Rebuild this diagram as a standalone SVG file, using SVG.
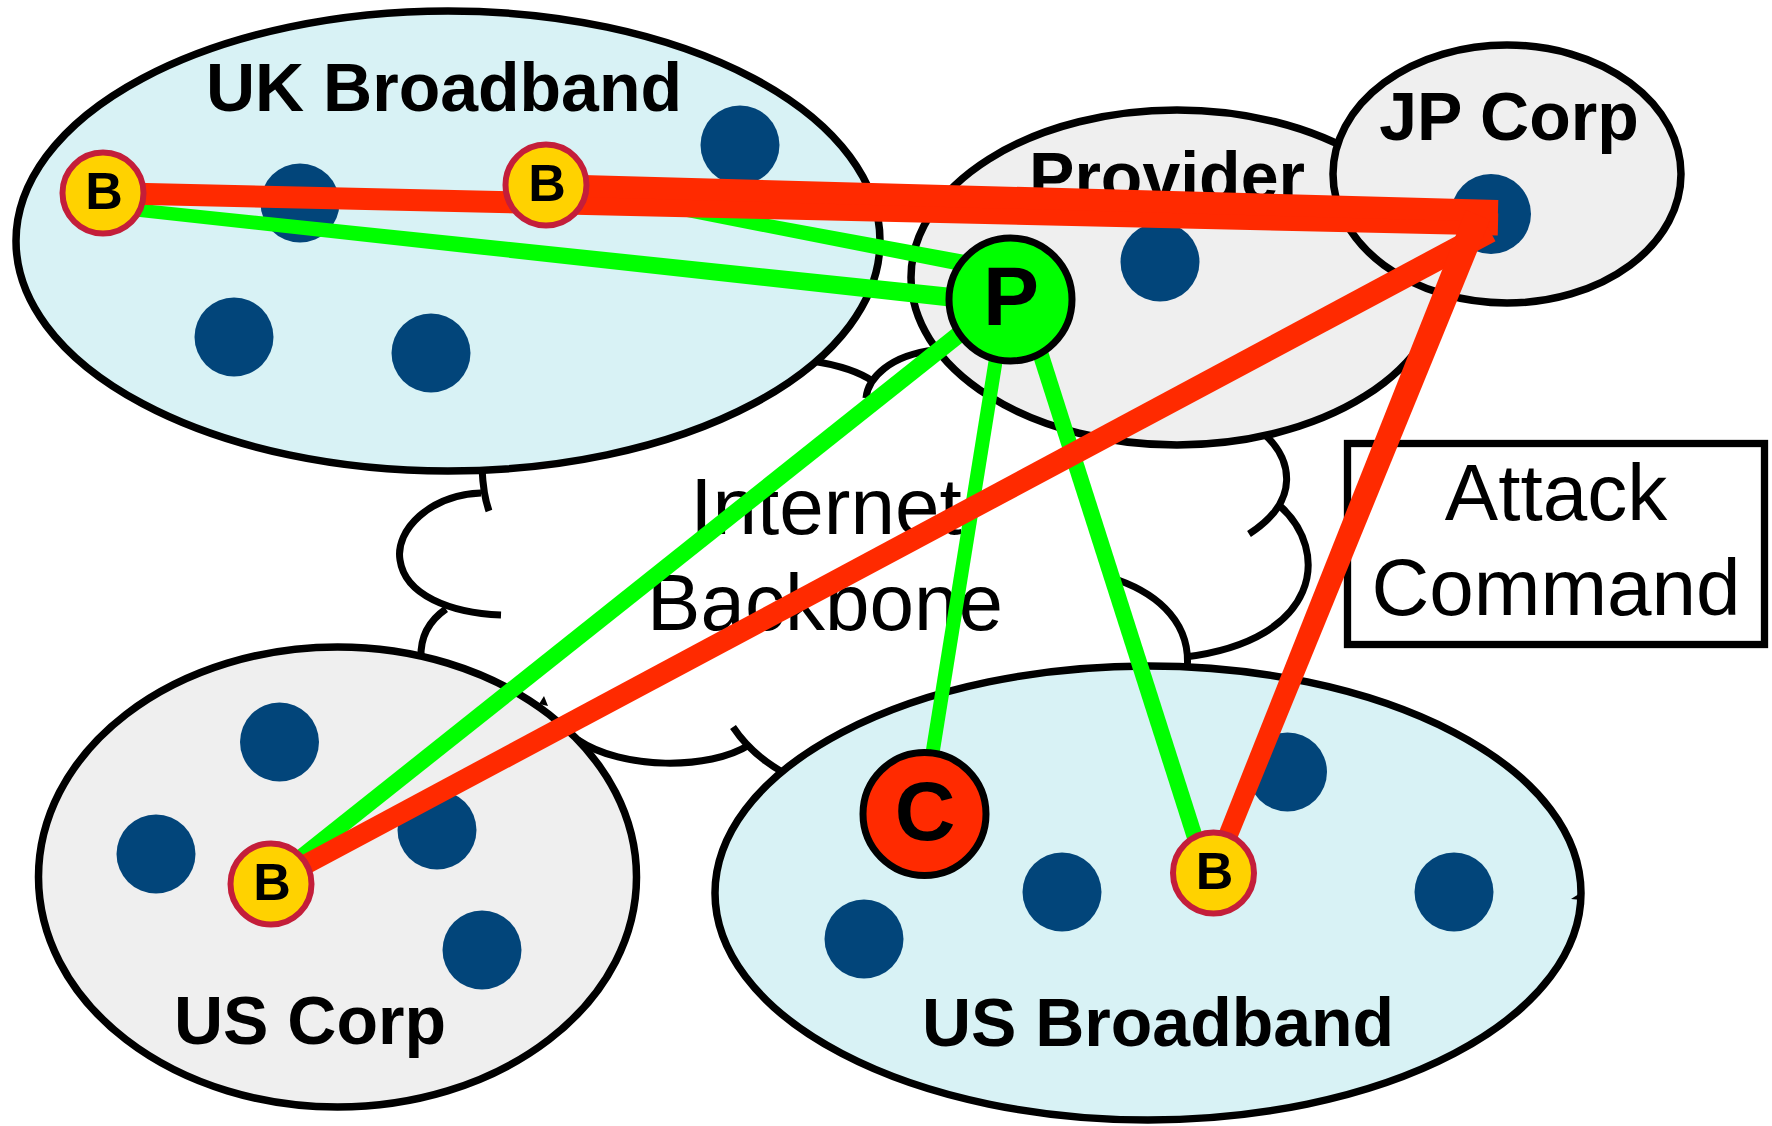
<svg xmlns="http://www.w3.org/2000/svg" width="1772" height="1126" viewBox="0 0 1772 1126">
  <style>
    .region { stroke: #000; stroke-width: 7.5; }
    .cyan { fill: #D8F2F5; }
    .grey { fill: #EFEFEF; }
    .host { fill: #02457A; }
    .cloud { fill: none; stroke: #000; stroke-width: 7; stroke-linecap: butt; }
    .title { font-family: "Liberation Sans", Arial, sans-serif; font-weight: bold; font-size: 68px; text-anchor: middle; fill: #000; }
    .plain { font-family: "Liberation Sans", Arial, sans-serif; font-size: 80px; text-anchor: middle; fill: #000; }
    .green { fill: #00FF00; }
    .greenline { stroke: #00FF00; fill: none; }
    .red { fill: #FF2A00; }
    .redline { stroke: #FF2A00; stroke-width: 22; fill: none; }
    .bot circle { fill: #FFD200; stroke: #C41E3A; stroke-width: 6; }
    .bot text { font-family: "Liberation Sans", Arial, sans-serif; font-weight: bold; font-size: 52px; text-anchor: middle; fill: #000; }
    .big circle { stroke: #000; stroke-width: 7; }
    .big text { font-family: "Liberation Sans", Arial, sans-serif; font-weight: bold; font-size: 84px; text-anchor: middle; fill: #000; }
  </style>

  <rect width="1772" height="1126" fill="#fff"/>

  <!-- Internet backbone cloud (bumps partly hidden behind the networks) -->
  <g id="internet-backbone">
    <path class="cloud" d="M 482 468 C 483 490 485 500 489 511"/>
    <path class="cloud" d="M 481 493 C 430 495 395 530 400 560 C 405 595 450 613 501 615"/>
    <path class="cloud" d="M 446 609 C 430 620 420 635 421 658"/>
    <path class="cloud" d="M 812 361 C 838 365 860 372 874 382"/>
    <path class="cloud" d="M 866 398 C 868 378 890 355 935 350"/>
    <path class="cloud" d="M 1262 432 C 1292 458 1302 500 1249 534"/>
    <path class="cloud" d="M 1280 506 C 1330 550 1322 640 1185 657"/>
    <path class="cloud" d="M 1118 580 C 1160 595 1192 625 1187 670"/>
    <path class="cloud" d="M 578 740 C 622 770 710 770 749 745"/>
    <path class="cloud" d="M 733 727 C 745 745 760 760 786 774"/>
    <text class="plain" x="826" y="534">Internet</text>
    <text class="plain" x="825" y="630">Backbone</text>
  </g>

  <g id="uk-broadband">
    <ellipse class="region cyan" cx="448" cy="241" rx="432" ry="230"/>
    <circle class="host" cx="300" cy="203" r="39.5"/>
    <circle class="host" cx="740" cy="145" r="39.5"/>
    <circle class="host" cx="234" cy="337" r="39.5"/>
    <circle class="host" cx="431" cy="353" r="39.5"/>
    <text class="title" x="444" y="111">UK Broadband</text>
  </g>

  <g id="provider">
    <ellipse class="region grey" cx="1177" cy="277.5" rx="266" ry="167.5"/>
    <circle class="host" cx="1160" cy="262" r="39.5"/>
    <text class="title" x="1167" y="200">Provider</text>
  </g>

  <g id="jp-corp">
    <ellipse class="region grey" cx="1507" cy="174" rx="174" ry="129"/>
    <circle class="host" cx="1491" cy="214" r="40"/>
    <text class="title" x="1509" y="140">JP Corp</text>
  </g>

  <g id="us-corp">
    <ellipse class="region grey" cx="337.5" cy="877" rx="299" ry="230"/>
    <path d="M 539 704 L 544 696 L 548 706 Z" fill="#000"/>
    <circle class="host" cx="279.5" cy="742" r="39.5"/>
    <circle class="host" cx="156" cy="854" r="39.5"/>
    <circle class="host" cx="437" cy="830" r="39.5"/>
    <circle class="host" cx="482" cy="950" r="39.5"/>
    <text class="title" x="310" y="1044">US Corp</text>
  </g>

  <g id="us-broadband">
    <ellipse class="region cyan" cx="1148" cy="893" rx="433" ry="227"/>
    <path d="M 1582 892 L 1571 899 L 1582 900 Z" fill="#000"/>
    <circle class="host" cx="1287.5" cy="772" r="39.5"/>
    <circle class="host" cx="1062" cy="892" r="39.5"/>
    <circle class="host" cx="864" cy="939" r="39.5"/>
    <circle class="host" cx="1454" cy="892" r="39.5"/>
    <text class="title" x="1158" y="1046">US Broadband</text>
  </g>

  <g id="attack-command">
    <rect x="1347.5" y="443.5" width="417" height="201" fill="#fff" stroke="#000" stroke-width="7.3"/>
    <text class="plain" x="1556" y="520">Attack</text>
    <text class="plain" x="1556" y="615" font-size="79">Command</text>
  </g>

  <!-- Connectors: green = bots to provider, red = attack command traffic -->
  <g id="connectors">
    <polygon class="green" points="120.7,201.7 1001,293 999,311.9 119.3,214.7"/>
    <polygon class="green" points="547,178.3 991.6,259.8 988.4,276.4 545,189.1"/>
    <polygon class="green" points="969.3,315.3 979.9,328.7 284.0,881.4 274.0,868.6"/>
    <line class="greenline" x1="1005.6" y1="299" x2="922.7" y2="814" stroke-width="14"/>
    <line class="greenline" x1="1023" y1="299" x2="1206" y2="872" stroke-width="16"/>

    <line class="redline" x1="103" y1="193" x2="1498" y2="224.6"/>
    <line class="redline" x1="546" y1="185" x2="1498" y2="211"/>
    <polygon class="red" points="1484.5,220.7 1495.5,241.3 275.7,891.8 266.3,874.2"/>
    <polygon class="red" points="1465.9,210.1 1490.1,219.9 1221.8,876.2 1204.2,869.2"/>
  </g>

  <g id="bot-uk-1" class="bot">
    <circle cx="103" cy="193" r="40.5"/>
    <text x="104" y="208.5">B</text>
  </g>
  <g id="bot-uk-2" class="bot">
    <circle cx="546" cy="185" r="40.5"/>
    <text x="547" y="200.5">B</text>
  </g>
  <g id="bot-us-corp" class="bot">
    <circle cx="271" cy="884" r="40.5"/>
    <text x="272" y="899.5">B</text>
  </g>
  <g id="bot-us-broadband" class="bot">
    <circle cx="1213.5" cy="873" r="40.5"/>
    <text x="1214.5" y="888.5">B</text>
  </g>

  <g id="provider-node" class="big">
    <circle class="green" cx="1010.5" cy="299.5" r="61.5"/>
    <text x="1011" y="325">P</text>
  </g>

  <g id="controller-node" class="big">
    <circle class="red" cx="924.5" cy="814" r="61.5"/>
    <text x="925" y="840">C</text>
  </g>
</svg>
